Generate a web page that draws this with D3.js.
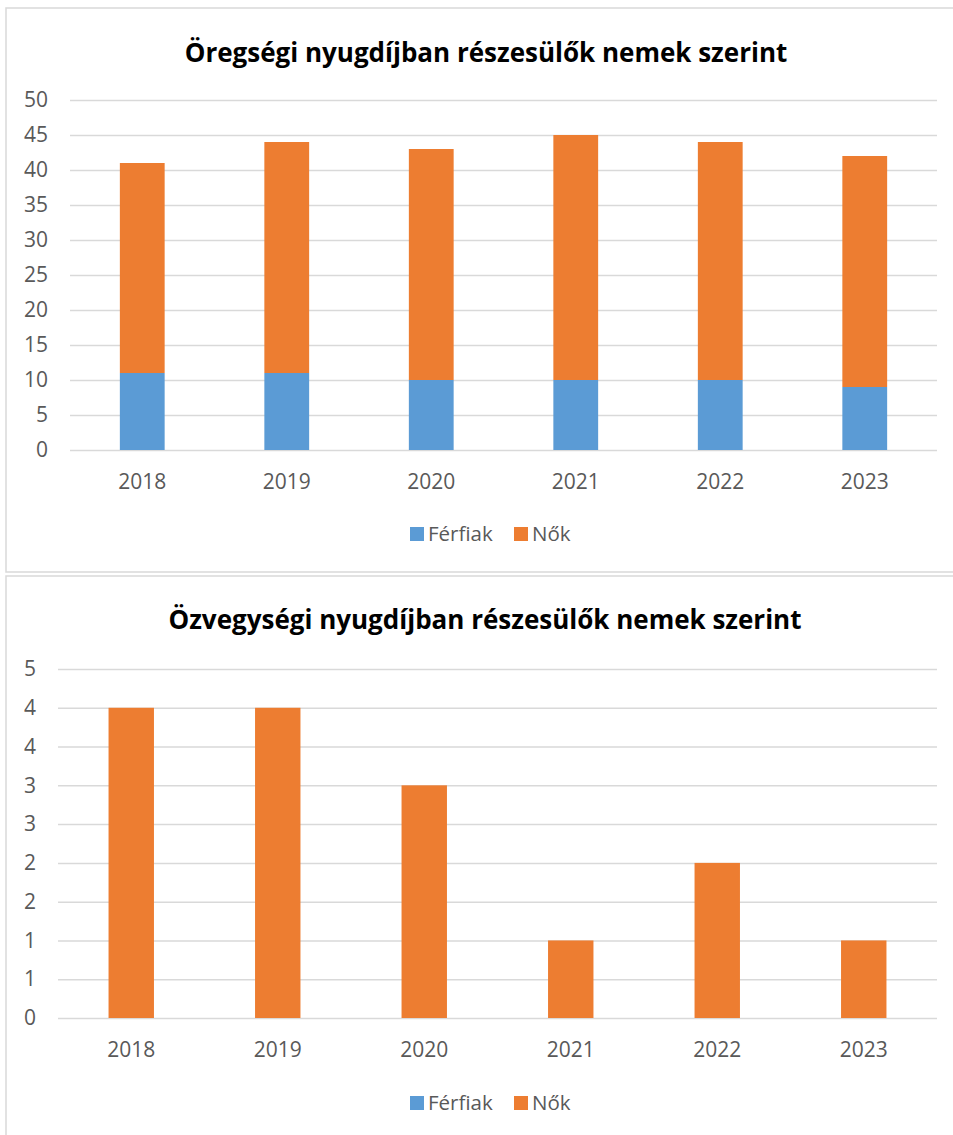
<!DOCTYPE html>
<html lang="hu">

<head>
    <meta charset="UTF-8">
    <title>Nyugdíjban részesülők</title>
    <style>
        body { margin: 0; background: #fff; }
        text { font-family: "Open Sans", "Noto Sans", sans-serif; }
    </style>
</head>

<body>
    <script src="https://cdn.jsdelivr.net/npm/d3@7/dist/d3.min.js"></script>
    <script>
        // adatok
        var years = ["2018", "2019", "2020", "2021", "2022", "2023"];
        var seriesNames = ["Férfiak", "Nők"];
        var colors = ["#5B9BD5", "#ED7D31"];

        var oregFerfi = [11, 11, 10, 10, 10, 9];
        var oregNo = [30, 33, 33, 35, 34, 33];
        var oregTicks = [0, 5, 10, 15, 20, 25, 30, 35, 40, 45, 50];

        var ozvFerfi = [0, 0, 0, 0, 0, 0];
        var ozvNo = [4, 4, 3, 1, 2, 1];
        var ozvTicks = [0, 0.5, 1, 1.5, 2, 2.5, 3, 3.5, 4, 4.5];

        var svg = d3.select("body").append("svg").attr("width", 953).attr("height", 1135);

        // keretek
        svg.append("rect").attr("x", 6).attr("y", 8).attr("width", 960).attr("height", 564)
            .attr("fill", "none").attr("stroke", "#D9D9D9").attr("stroke-width", 1.5);
        svg.append("rect").attr("x", 6).attr("y", 576).attr("width", 960).attr("height", 600)
            .attr("fill", "none").attr("stroke", "#D9D9D9").attr("stroke-width", 1.5);

        function drawChart(o) {
            var g = svg.append("g");

            var x = d3.scaleBand().domain(years).range([o.left, o.right]).paddingInner(0.69).paddingOuter(0.345);
            var y = d3.scaleLinear().domain([0, o.max]).range([o.bottom, o.top]);

            // rácsvonalak + y tengely
            var yAxis = d3.axisLeft(y).tickValues(o.ticks)
                .tickSizeInner(-(o.right - o.left)).tickSizeOuter(0).tickPadding(o.labelGap)
                .tickFormat(function (d) { return Math.round(d); });
            var ya = g.append("g").attr("transform", "translate(" + o.left + ",0)").call(yAxis);
            ya.select(".domain").remove();
            ya.selectAll("line").attr("stroke", "#D9D9D9").attr("stroke-width", 1.5);
            ya.selectAll("text").attr("fill", "#595959").attr("font-size", 21)
                .attr("font-family", "Open Sans, sans-serif");

            // halmozott oszlopok
            var rows = years.map(function (yr, i) {
                return { year: yr, "Férfiak": o.men[i], "Nők": o.women[i] };
            });
            var stack = d3.stack().keys(seriesNames)(rows);
            g.selectAll(".series").data(stack).join("g")
                .attr("fill", function (d, i) { return colors[i]; })
                .selectAll("rect").data(function (d) { return d; }).join("rect")
                .attr("x", function (d) { return x(d.data.year); })
                .attr("width", x.bandwidth())
                .attr("y", function (d) { return y(d[1]); })
                .attr("height", function (d) { return y(d[0]) - y(d[1]); });

            // x tengely
            var xAxis = d3.axisBottom(x).tickSize(0).tickPadding(o.xPad);
            var xa = g.append("g").attr("transform", "translate(0," + o.bottom + ")").call(xAxis);
            xa.select(".domain").remove();
            xa.selectAll("text").attr("fill", "#595959").attr("font-size", 21)
                .attr("font-family", "Open Sans, sans-serif");

            // cím
            g.append("text").attr("x", o.titleX).attr("y", o.titleY).attr("text-anchor", "middle")
                .attr("font-size", 26).attr("font-weight", "bold").attr("fill", "#000")
                .text(o.title);

            // jelmagyarázat
            var lg = g.append("g").attr("transform", "translate(0," + o.legendY + ")");
            var lx = [410, 514];
            seriesNames.forEach(function (n, i) {
                lg.append("rect").attr("x", lx[i]).attr("y", -14).attr("width", 14).attr("height", 14)
                    .attr("fill", colors[i]);
                lg.append("text").attr("x", lx[i] + 18).attr("y", 0).attr("fill", "#595959")
                    .attr("font-size", 20.5).text(n);
            });
        }

        drawChart({
            title: "Öregségi nyugdíjban részesülők nemek szerint",
            titleX: 486, titleY: 62,
            left: 70, right: 937, top: 100, bottom: 450, max: 50,
            ticks: oregTicks, labelGap: 22, xPad: 24, legendY: 541,
            men: oregFerfi, women: oregNo
        });

        drawChart({
            title: "Özvegységi nyugdíjban részesülők nemek szerint",
            titleX: 485, titleY: 629,
            left: 58, right: 937, top: 669, bottom: 1018, max: 4.5,
            ticks: ozvTicks, labelGap: 22, xPad: 24, legendY: 1110,
            men: ozvFerfi, women: ozvNo
        });
    </script>
</body>

</html>
